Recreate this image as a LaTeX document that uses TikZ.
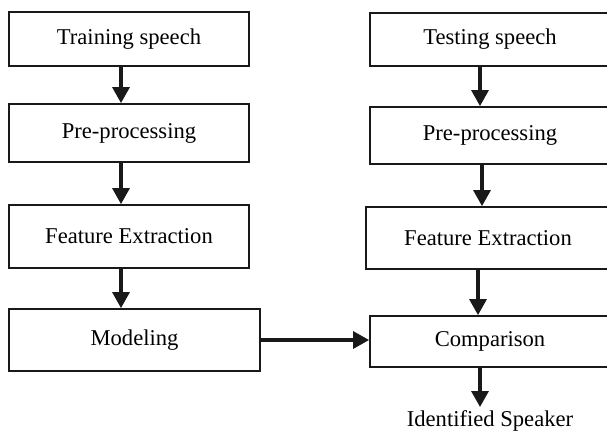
\documentclass[tikz,border=0pt]{standalone}
\usepackage{fontspec}
\setmainfont{Liberation Serif}
\usetikzlibrary{arrows.meta}
\begin{document}
\begin{tikzpicture}[x=1pt,y=-1pt,
  box/.style={draw=black!90,line width=1.8pt,inner sep=0pt,font=\fontsize{22.6}{25}\selectfont},
  arr/.style={line width=3.2pt,draw=black!90,-{Triangle[width=17pt,length=16pt]}},
  lbl/.style={inner sep=0pt,font=\fontsize{22.6}{25}\selectfont}]
\useasboundingbox (0,0) rectangle (607,432);
% left column
\node[box,minimum width=240pt,minimum height=54pt] (tr) at (129,39) {Training speech};
\node[box,minimum width=240pt,minimum height=58pt] (pl) at (129,133) {Pre-processing};
\node[box,minimum width=240pt,minimum height=63pt] (fl) at (129,236.5) {Feature Extraction};
\node[box,minimum width=251pt,minimum height=62pt] (mo) at (134.5,340) {Modeling};
% right column
\node[box,minimum width=240pt,minimum height=53pt] (te) at (490,39.5) {Testing speech};
\node[box,minimum width=240pt,minimum height=57pt] (pr) at (490,135.5) {Pre-processing};
\node[box,minimum width=244pt,minimum height=62pt] (fr) at (488,238) {Feature Extraction};
\node[box,minimum width=240pt,minimum height=51pt] (co) at (490,341.5) {Comparison};
\node[lbl,anchor=north] (id) at (490,410) {Identified Speaker};
% arrows
\draw[arr] ([xshift=-8pt]tr.south) -- ([xshift=-8pt]pl.north);
\draw[arr] ([xshift=-8pt]pl.south) -- ([xshift=-8pt]fl.north);
\draw[arr] ([xshift=-8pt]fl.south) -- ([xshift=-13.5pt]mo.north);
\draw[arr] ([xshift=-10pt]te.south) -- ([xshift=-10pt]pr.north);
\draw[arr] ([xshift=-8pt]pr.south) -- ([xshift=-6pt]fr.north);
\draw[arr] ([xshift=-10pt]fr.south) -- ([xshift=-12pt]co.north);
\draw[arr] ([xshift=-10pt]co.south) -- ([xshift=-10pt,yshift=3pt]id.north);
\draw[arr] (mo.east) -- (mo.east -| co.west);
\end{tikzpicture}
\end{document}
